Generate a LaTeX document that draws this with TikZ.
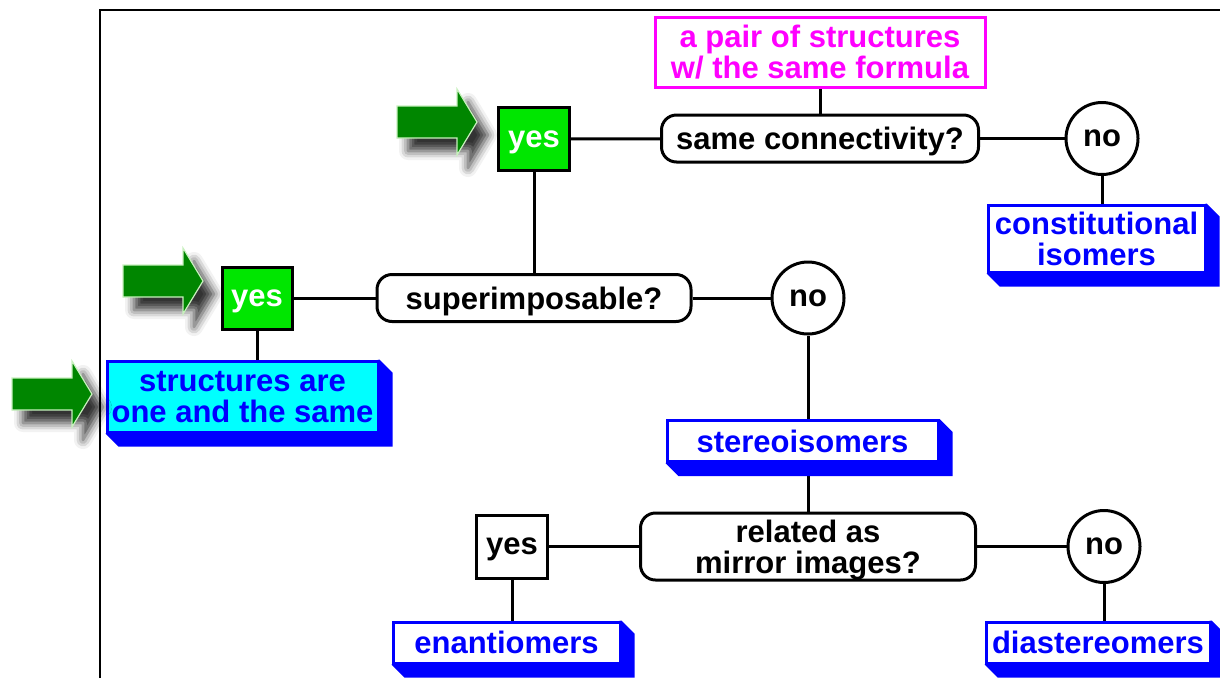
\documentclass[tikz,border=0pt]{standalone}
\usepackage{fontspec}
\setmainfont{Liberation Sans}
\usetikzlibrary{backgrounds,calc,shadows.blur}
\definecolor{gfill}{RGB}{0,230,0}
\definecolor{adark}{RGB}{0,134,0}
\definecolor{alight}{RGB}{200,240,190}
\definecolor{pink}{RGB}{255,0,255}
\definecolor{cyanfill}{RGB}{0,255,255}
\definecolor{tblue}{RGB}{0,0,255}
\newcommand\extrude[1]{%
  \fill[tblue] (#1.north east) -- ++(13,13) -- ($(#1.south east)+(13,13)$)
    -- ($(#1.south west)+(13,13)$) -- (#1.south west) -- cycle;}
\newcommand\garrow[2]{%
  \fill[adark, draw=alight, line width=1.2pt,
    blur shadow={shadow xshift=11pt, shadow yshift=-13pt, shadow blur radius=9pt, shadow opacity=80}]
    (#1-80,#2-16) -- (#1-20,#2-16) -- (#1-20,#2-33) -- (#1,#2) -- (#1-20,#2+33)
    -- (#1-20,#2+16) -- (#1-80,#2+16) -- cycle;}
\begin{document}
\begin{tikzpicture}[x=1pt,y=-1pt,line width=3pt,
  font=\fontsize{31}{31}\selectfont\bfseries,
  every node/.style={inner sep=0pt, align=center, text depth=0pt},
  qbox/.style={draw=black, fill=white, rounded corners=15pt},
  yesbox/.style={draw=black, fill=gfill, text=white, minimum width=71pt, minimum height=63pt},
  plainyes/.style={draw=black, fill=white, minimum width=71pt, minimum height=63pt},
  nocirc/.style={draw=black, fill=white, circle, minimum size=72pt},
  resbox/.style={draw=tblue, fill=white, text=tblue},
  conn/.style={draw=black, line width=3pt}]
\useasboundingbox (0,0) rectangle (1220,678);
% frame
\coordinate (fbl) at (100,678);
\coordinate (ftl) at (100,10);
\coordinate (ftr) at (1220,10);
\draw[line width=2pt] (fbl) -- (ftl) -- (ftr);

% nodes
\node[draw=pink, text=pink, fill=white, minimum width=330pt, minimum height=70pt] (pair) at (820,52)
  {a pair of structures\\w/ the same formula};
\node[qbox, minimum width=317pt, minimum height=47pt] (samec) at (820,138.5) {same connectivity?};
\node[yesbox] (yes1) at (534,139) {yes};
\node[nocirc] (no1) at (1102,138.5) {no};
\node[resbox, minimum width=217pt, minimum height=67pt] (const) at (1096.5,238.5) {constitutional\\isomers};

\node[qbox, minimum width=314pt, minimum height=47pt] (super) at (534,298) {superimposable?};
\node[yesbox, minimum width=70pt, minimum height=62pt] (yes2) at (257,298) {yes};
\node[nocirc] (no2) at (808,298) {no};
\node[resbox, fill=cyanfill, minimum width=271pt, minimum height=71pt] (same) at (242.5,396.5)
  {structures are\\one and the same};
\node[resbox, minimum width=271pt, minimum height=41pt] (stereo) at (802.5,441) {stereoisomers};

\node[qbox, minimum width=335pt, minimum height=67pt] (mirror) at (808,546.5) {related as\\mirror images?};
\node[plainyes] (yes3) at (512,546.5) {yes};
\node[nocirc] (no3) at (1104,546.5) {no};
\node[resbox, minimum width=227pt, minimum height=41pt] (enan) at (506.5,642.5) {enantiomers};
\node[resbox, minimum width=224pt, minimum height=41pt] (dia) at (1098,642.5) {diastereomers};

% green arrows
\garrow{477}{122}
\garrow{203}{281}
\garrow{92}{394}

\begin{scope}[on background layer]
  % connectors
  \draw[conn] (pair) -- (samec);
  \draw[conn] (yes1) -- (samec);
  \draw[conn] (samec) -- (no1);
  \draw[conn] (no1) -- (no1 |- const.north);
  \draw[conn] (yes1) -- (super);
  \draw[conn] (yes2) -- (super);
  \draw[conn] (super) -- (no2);
  \draw[conn] (yes2) -- (yes2 |- same.north);
  \draw[conn] (no2) -- (no2 |- stereo.north);
  \draw[conn] (mirror) -- (mirror |- stereo.south);
  \draw[conn] (yes3) -- (mirror);
  \draw[conn] (mirror) -- (no3);
  \draw[conn] (yes3) -- (yes3 |- enan.north);
  \draw[conn] (no3) -- (no3 |- dia.north);
  % extrusions
  \extrude{const}
  \extrude{same}
  \extrude{stereo}
  \extrude{enan}
  \extrude{dia}
\end{scope}
\end{tikzpicture}
\end{document}
